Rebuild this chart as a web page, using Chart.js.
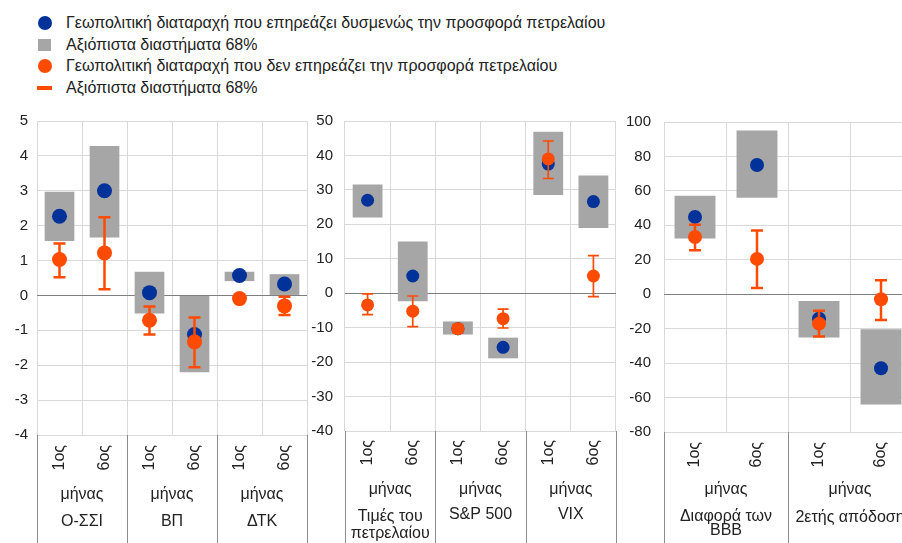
<!DOCTYPE html>
<html><head><meta charset="utf-8">
<script src="https://cdn.jsdelivr.net/npm/chart.js@4.4.1/dist/chart.umd.min.js"></script>
<style>
html,body{margin:0;padding:0;width:902px;height:543px;overflow:hidden;background:#fff;font-family:"Liberation Sans",Arial,sans-serif;}
canvas{position:absolute;}
.li{position:absolute;left:66px;font-size:16px;color:#222;white-space:nowrap;line-height:18px;}
.mk{position:absolute;}
</style></head><body>
<div id="legend"></div>
<canvas id="c1" width="320" height="443" style="left:0;top:100px"></canvas>
<canvas id="c2" width="330" height="443" style="left:300px;top:100px"></canvas>
<canvas id="c3" width="330" height="443" style="left:610px;top:100px"></canvas>
<script>
// ---- Legend ----
const legendLabels = [
  'Γεωπολιτική διαταραχή που επηρεάζει δυσμενώς την προσφορά πετρελαίου',
  'Αξιόπιστα διαστήματα 68%',
  'Γεωπολιτική διαταραχή που δεν επηρεάζει την προσφορά πετρελαίου',
  'Αξιόπιστα διαστήματα 68%'
];
const BLUE = '#003299', ORANGE = '#FF4B00', GRAY = '#A6A6A6', GRID = '#D9D9D9', ZERO = '#7F7F7F', TEXT = '#222222', SEP = '#8C8C8C';
const FONT = '"Liberation Sans", Arial, sans-serif';

// ---- Panel 1: Ο-ΣΣΙ, ΒΠ, ΔΤΚ ----
const cats1 = ['1ος','6ος','1ος','6ος','1ος','6ος'];
const groups1 = [['μήνας','Ο-ΣΣΙ'], ['μήνας','ΒΠ'], ['μήνας','ΔΤΚ']];
const blue1 = [2.27, 3.0, 0.08, -1.12, 0.57, 0.33];
const blueLo1 = [1.56, 1.66, -0.52, -2.2, 0.41, 0.0];
const blueHi1 = [2.97, 4.28, 0.68, 0.0, 0.68, 0.61];
const orange1 = [1.03, 1.22, -0.71, -1.33, -0.09, -0.3];
const orangeLo1 = [0.52, 0.18, -1.12, -2.06, -0.12, -0.56];
const orangeHi1 = [1.49, 2.24, -0.32, -0.63, -0.05, -0.04];
const yTicks1 = [-4, 5, 1];

// ---- Panel 2: Τιμές του πετρελαίου, S&P 500, VIX ----
const cats2 = ['1ος','6ος','1ος','6ος','1ος','6ος'];
const groups2 = [['μήνας','Τιμές του','πετρελαίου'], ['μήνας','S&P 500'], ['μήνας','VIX']];
const blue2 = [27.0, 5.0, -10.3, -15.7, 37.5, 26.6];
const blueLo2 = [22.0, -2.3, -12.0, -18.9, 28.5, 18.9];
const blueHi2 = [31.6, 15.0, -8.2, -12.9, 46.9, 34.2];
const orange2 = [-3.4, -5.2, -10.3, -7.4, 39.0, 5.0];
const orangeLo2 = [-6.2, -9.7, -11.5, -10.1, 33.3, -1.0];
const orangeHi2 = [-0.2, -0.8, -9.1, -4.6, 44.2, 10.9];
const yTicks2 = [-40, 50, 10];

// ---- Panel 3: Διαφορά των BBB, 2ετής απόδοση ----
const cats3 = ['1ος','6ος','1ος','6ος'];
const groups3 = [['μήνας','Διαφορά των','BBB'], ['μήνας','2ετής απόδοση']];
const blue3 = [44.9, 75.0, -14.2, -43.0];
const blueLo3 = [32.4, 56.0, -25.1, -64.1];
const blueHi3 = [57.2, 95.0, -4.0, -20.3];
const orange3 = [33.2, 20.5, -17.1, -2.9];
const orangeLo3 = [25.5, 3.6, -24.6, -15.0];
const orangeHi3 = [40.3, 37.0, -9.6, 8.1];
const yTicks3 = [-80, 100, 20];

// legend build
(function(){
  const lg = document.getElementById('legend');
  const ys = [23, 45, 66, 88];
  legendLabels.forEach((t, i) => {
    const d = document.createElement('div');
    d.className = 'li'; d.textContent = t; d.style.top = (ys[i] - 9) + 'px';
    lg.appendChild(d);
    const m = document.createElement('div'); m.className = 'mk';
    if (i === 0 || i === 2) {
      Object.assign(m.style, {left:'38px', top:(ys[i]-7)+'px', width:'14px', height:'14px', borderRadius:'50%', background: i===0?BLUE:ORANGE});
    } else if (i === 1) {
      Object.assign(m.style, {left:'38px', top:(ys[i]-6)+'px', width:'13px', height:'12px', background:GRAY});
    } else {
      Object.assign(m.style, {left:'37px', top:(ys[i]-2)+'px', width:'15px', height:'4px', background:ORANGE});
    }
    lg.appendChild(m);
  });
})();

function makePanel(id, p) {
  const errPlugin = {
    id: 'errbars',
    beforeDatasetDraw(chart, args) {
      if (args.index !== 0) return;
      const meta = chart.getDatasetMeta(0);
      const ys = chart.scales.y;
      const c = chart.ctx;
      c.save();
      c.strokeStyle = ORANGE; c.lineWidth = p.errW;
      meta.data.forEach((pt, i) => {
        const x = pt.x;
        const y1 = ys.getPixelForValue(p.oLo[i]);
        const y2 = ys.getPixelForValue(p.oHi[i]);
        c.beginPath();
        c.moveTo(x, y1); c.lineTo(x, y2);
        c.moveTo(x - p.cap, y1); c.lineTo(x + p.cap, y1);
        c.moveTo(x - p.cap, y2); c.lineTo(x + p.cap, y2);
        c.stroke();
      });
      c.restore();
    }
  };
  const groupPlugin = {
    id: 'groups',
    afterDraw(chart) {
      const xs = chart.scales.x, ca = chart.chartArea, c = chart.ctx;
      const half = (xs.getPixelForValue(1) - xs.getPixelForValue(0)) / 2;
      c.save();
      c.strokeStyle = SEP; c.lineWidth = 1;
      let idx = 0;
      const bounds = [];
      p.groups.forEach((g) => {
        const left = xs.getPixelForValue(idx) - half;
        const right = xs.getPixelForValue(idx + 1) + half;
        bounds.push(left, right);
        c.fillStyle = TEXT; c.textAlign = 'center'; c.textBaseline = 'middle';
        c.font = '16px ' + FONT;
        const cx = (left + right) / 2;
        g.forEach((t, k) => {
          c.fillText(t, cx, ca.bottom + p.textY[g.length - 2][k]);
        });
        idx += 2;
      });
      [...new Set(bounds.map(b => Math.round(b)))].forEach(b => {
        c.beginPath(); c.moveTo(b + 0.5, ca.bottom); c.lineTo(b + 0.5, chart.height); c.stroke();
      });
      c.restore();
    }
  };
  new Chart(document.getElementById(id), {
    type: 'bar',
    data: {
      labels: p.cats,
      datasets: [
        {type:'line', label:'o', data:p.orange, showLine:false, pointRadius:p.r, pointHoverRadius:p.r,
         pointBackgroundColor:ORANGE, pointBorderColor:ORANGE, pointBorderWidth:0, order:0},
        {type:'line', label:'b', data:p.blue, showLine:false, pointRadius:p.r, pointHoverRadius:p.r,
         pointBackgroundColor:BLUE, pointBorderColor:BLUE, pointBorderWidth:0, order:1},
        {type:'bar', label:'g', data:p.bLo.map((lo, i) => [lo, p.bHi[i]]), backgroundColor:GRAY,
         barPercentage:0.66, categoryPercentage:1.0, order:2}
      ]
    },
    options: {
      responsive:false, animation:false, devicePixelRatio:1,
      events: [],
      layout:{padding:{top:p.padTop, right:p.padRight, left:0, bottom:0}},
      plugins:{legend:{display:false}, tooltip:{enabled:false}},
      scales:{
        x:{ offset:true, grid:{offset:true, color:GRID, drawTicks:false}, border:{display:false},
            ticks:{minRotation:90, maxRotation:90, autoSkip:false, padding:p.xPad,
                   font:{size:16, family:FONT}, color:TEXT},
            afterFit:s => { s.height = p.xH; } },
        y:{ min:p.yt[0], max:p.yt[1],
            ticks:{stepSize:p.yt[2], padding:p.yPad, font:{size:15, family:FONT}, color:TEXT},
            grid:{color:c => (c.tick && c.tick.value === 0) ? ZERO : GRID, drawTicks:false}, border:{display:false},
            afterFit:s => { s.width = p.yW; } }
      }
    },
    plugins:[errPlugin, groupPlugin]
  });
}

makePanel('c1', {cats:cats1, groups:groups1, blue:blue1, bLo:blueLo1, bHi:blueHi1, orange:orange1, oLo:orangeLo1, oHi:orangeHi1,
  yt:yTicks1, r:7.5, errW:2.5, cap:6, padTop:21, padRight:13, xH:108, yW:37, yPad:9, xPad:10,
  textY:[[60, 87], [58, 85, 101]]});
makePanel('c2', {cats:cats2, groups:groups2, blue:blue2, bLo:blueLo2, bHi:blueHi2, orange:orange2, oLo:orangeLo2, oHi:orangeHi2,
  yt:yTicks2, r:6.5, errW:1.7, cap:5.5, padTop:12, padRight:14, xH:112, yW:45, yPad:12, xPad:9,
  textY:[[59, 84], [59, 86, 103]]});
makePanel('c3', {cats:cats3, groups:groups3, blue:blue3, bLo:blueLo3, bHi:blueHi3, orange:orange3, oLo:orangeLo3, oHi:orangeHi3,
  yt:yTicks3, r:7, errW:2.5, cap:6, padTop:19, padRight:28, xH:111, yW:54, yPad:13, xPad:10,
  textY:[[58, 86], [58, 85, 99]]});
</script>
</body></html>
